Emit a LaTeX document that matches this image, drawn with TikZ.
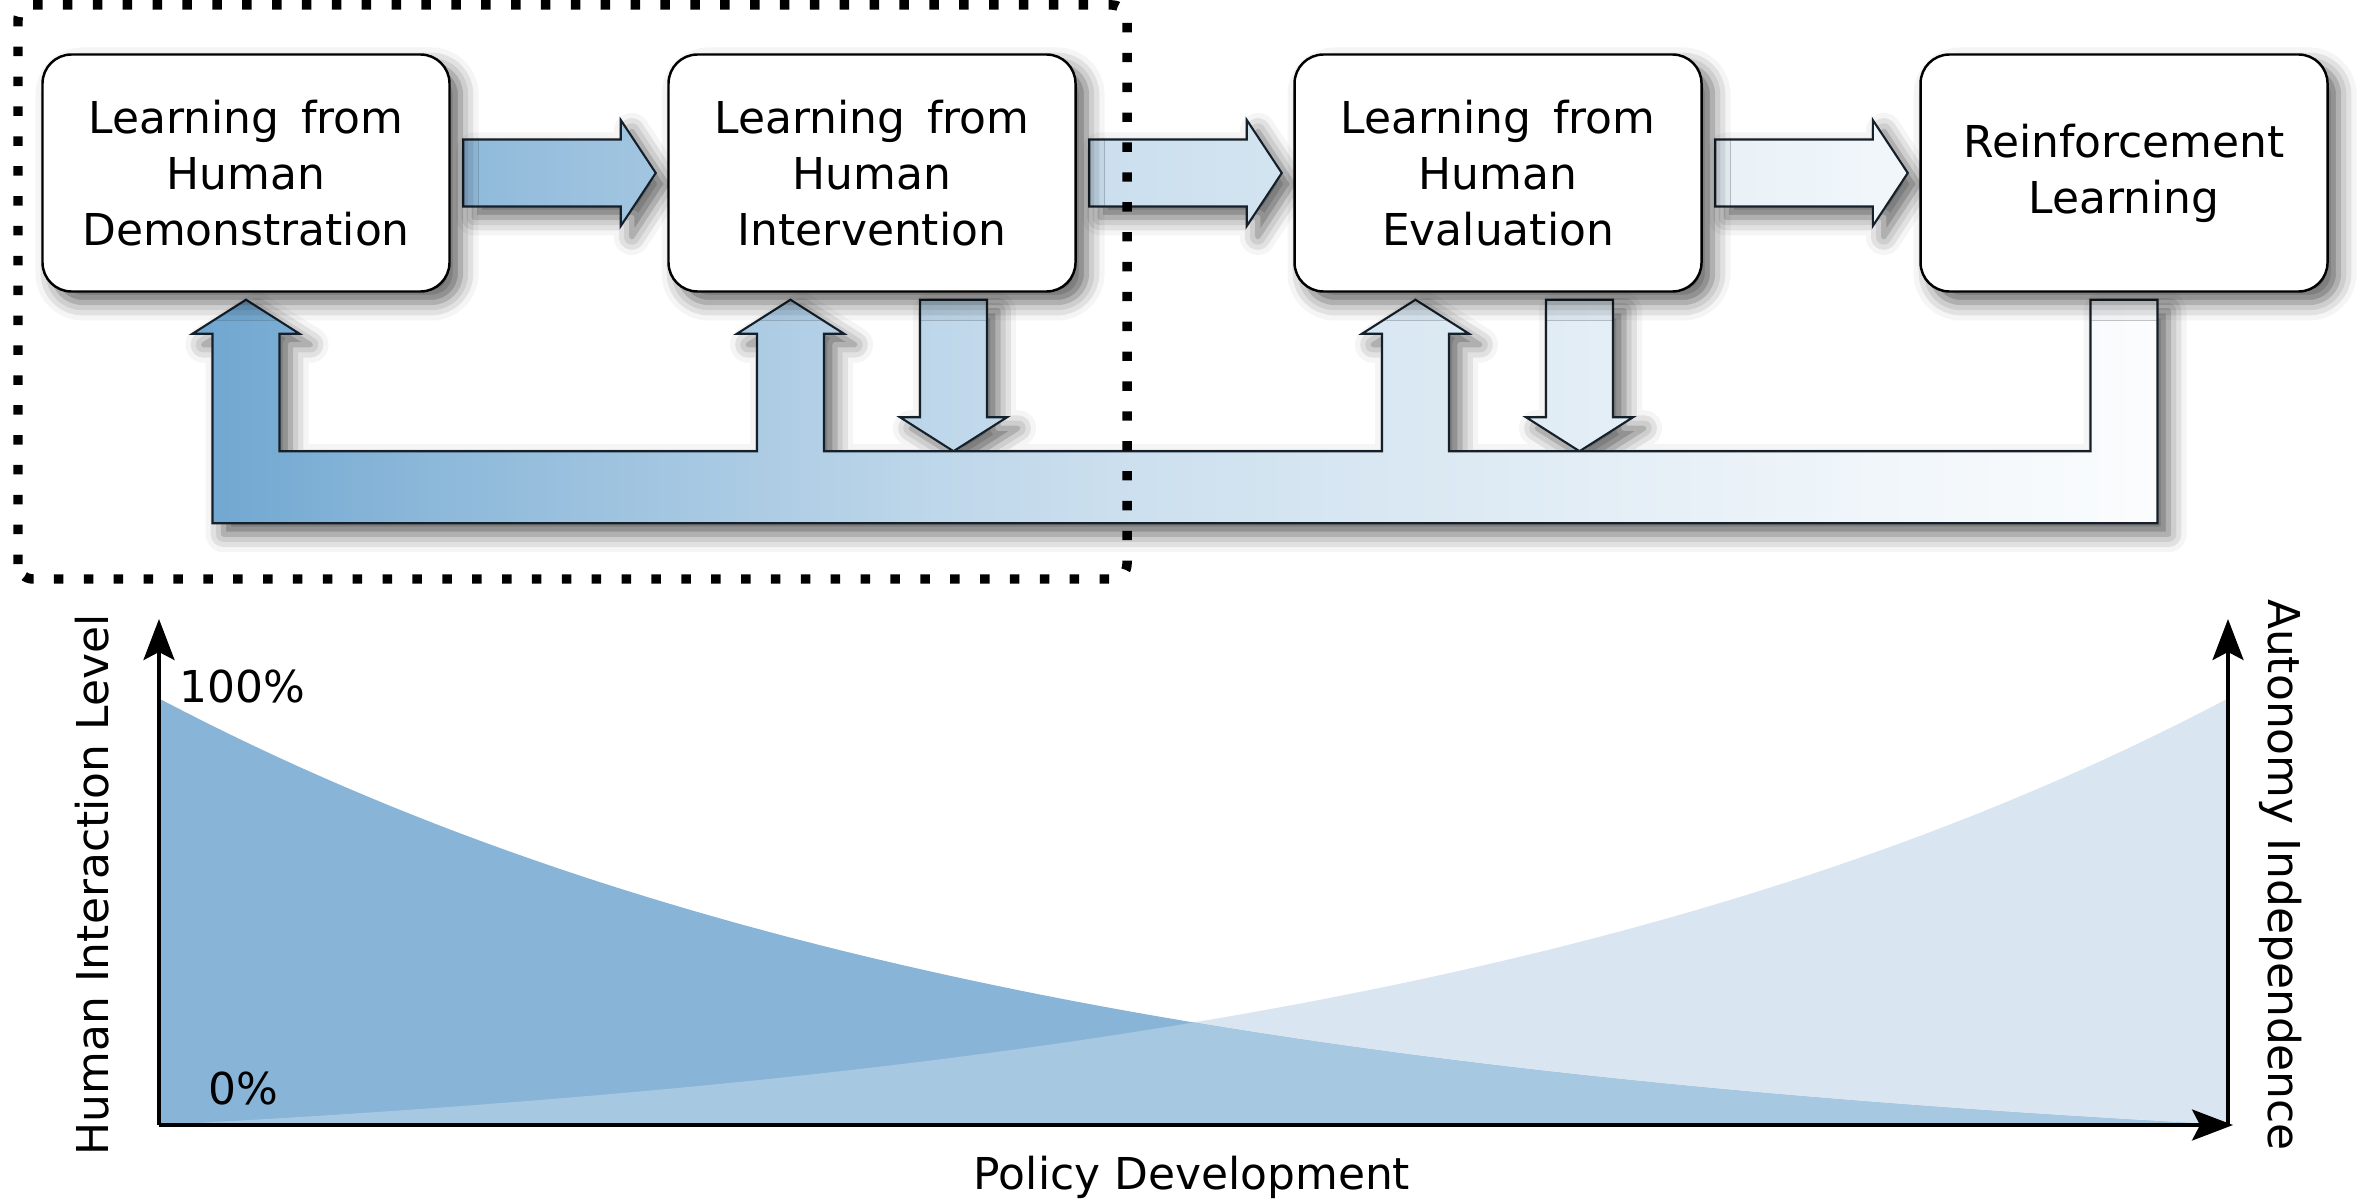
\documentclass[tikz,border=0pt]{standalone}
\usepackage{fontspec}
\setmainfont{DejaVu Sans}
\usetikzlibrary{calc,arrows.meta,shadows.blur}

\definecolor{loopblue}{RGB}{111,166,208}
\definecolor{arrowline}{RGB}{22,32,42}
\definecolor{humanfill}{RGB}{136,180,215}
\definecolor{autofill}{RGB}{217,230,241}
\definecolor{bothfill}{RGB}{167,200,225}
\colorlet{fb80}{loopblue!80!white}
\colorlet{fb45}{loopblue!45!white}
\colorlet{fb35}{loopblue!35!white}
\colorlet{fb19}{loopblue!19!white}
\colorlet{fb10}{loopblue!10!white}
\colorlet{fb03}{loopblue!3!white}

\pgfdeclarehorizontalshading{busfade}{100bp}{color(0bp)=(loopblue); color(25bp)=(loopblue);
  color(31bp)=(fb80); color(44bp)=(fb45); color(49bp)=(fb35); color(61bp)=(fb19);
  color(68bp)=(fb10); color(75bp)=(fb03); color(100bp)=(fb03)}

\pgfdeclarelayer{background}
\pgfsetlayers{background,main}

\tikzset{
  softshadow/.style={blur shadow={shadow xshift=1.1mm, shadow yshift=-1.1mm,
    shadow blur radius=1.8mm, shadow opacity=62}},
  stage/.style={draw, line width=0.7pt, rounded corners=0.29cm, fill=white,
    minimum width=4.07cm, minimum height=2.37cm, inner sep=0pt, align=center, softshadow},
  flow/.style={draw=arrowline, line width=0.6pt, shading=busfade, softshadow},
  axis/.style={line width=1pt, opacity=1, fill=black,
    -{Stealth[length=4.1mm, width=3.1mm, inset=0.8mm, fill=black]}},
  humanloop/.style={line width=2.7pt, dash pattern=on 2.7pt off 5.8pt, rounded corners=0.15cm},
}

\begin{document}
\begin{tikzpicture}[font=\fontsize{12.5}{15.9}\selectfont]
  \useasboundingbox (0,0) rectangle (23.68,12);
  % learning stages
  \node[stage] (demo) at (2.46,10.27) {Learning\hspace{.5em}from\\Human\\Demonstration};
  \node[stage] (inter) at (8.72,10.27) {Learning\hspace{.5em}from\\Human\\Intervention};
  \node[stage] (eval) at (14.98,10.27) {Learning\hspace{.5em}from\\Human\\Evaluation};
  \node[stage] (rl) at (21.24,10.27) {Reinforcement\\Learning};
  % feet of the feedback arrows
  \coordinate (up1) at ($(demo.south)+(0,-0.07)$);
  \coordinate (up2) at ($(inter.south)+(-0.815,-0.07)$);
  \coordinate (up3) at ($(eval.south)+(-0.825,-0.07)$);
  \coordinate (dn2) at ($(inter.south)+(0.815,-0.07)$);
  \coordinate (dn3) at ($(eval.south)+(0.815,-0.07)$);
  \coordinate (rlfoot) at ($(rl.south)+(0,-0.07)$);
  % block arrows, one shading for all of them
  \begin{pgfonlayer}{background}
    \shadedraw[flow]
      (up1) -- ++(0.535,-0.34) -- ++(-0.2,0) -- ++(0,-1.175)
      -- ($(up2)+(-0.335,-1.515)$) -- ++(0,1.175) -- ++(-0.2,0) -- (up2)
      -- ++(0.535,-0.34) -- ++(-0.2,0) -- ++(0,-1.175)
      -- ($(up3)+(-0.335,-1.515)$) -- ++(0,1.175) -- ++(-0.2,0) -- (up3)
      -- ++(0.535,-0.34) -- ++(-0.2,0) -- ++(0,-1.175)
      -- ($(rlfoot)+(-0.335,-1.515)$) -- ++(0,1.515) -- ++(0.67,0) -- ++(0,-2.235)
      -- ($(up1)+(-0.335,-2.235)$) -- ++(0,1.895) -- ++(-0.2,0) -- cycle
      ($(dn2)+(-0.335,0)$) -- ++(0.67,0) -- ++(0,-1.175) -- ++(0.2,0)
      -- ++(-0.535,-0.34) -- ++(-0.535,0.34) -- ++(0.2,0) -- cycle
      ($(dn3)+(-0.335,0)$) -- ++(0.67,0) -- ++(0,-1.175) -- ++(0.2,0)
      -- ++(-0.535,-0.34) -- ++(-0.535,0.34) -- ++(0.2,0) -- cycle
      ($(demo.east)+(0.125,0.335)$) -- ($(inter.west)+(-0.465,0.335)$) -- ++(0,0.195)
      -- ($(inter.west)+(-0.115,0)$) -- ($(inter.west)+(-0.465,-0.53)$) -- ++(0,0.195)
      -- ($(demo.east)+(0.125,-0.335)$) -- cycle
      ($(inter.east)+(0.125,0.335)$) -- ($(eval.west)+(-0.465,0.335)$) -- ++(0,0.195)
      -- ($(eval.west)+(-0.115,0)$) -- ($(eval.west)+(-0.465,-0.53)$) -- ++(0,0.195)
      -- ($(inter.east)+(0.125,-0.335)$) -- cycle
      ($(eval.east)+(0.125,0.335)$) -- ($(rl.west)+(-0.465,0.335)$) -- ++(0,0.195)
      -- ($(rl.west)+(-0.115,0)$) -- ($(rl.west)+(-0.465,-0.53)$) -- ++(0,0.195)
      -- ($(eval.east)+(0.125,-0.335)$) -- cycle;
  \end{pgfonlayer}
  % interaction vs autonomy
  \coordinate (origin) at (1.59,0.75);
  \coordinate (ytop) at (1.59,5.81);
  \coordinate (xend) at (22.33,0.75);
  \coordinate (rfoot) at (22.28,0.75);
  \coordinate (rtop) at (22.28,5.81);
  \fill[autofill] (origin) -- plot[variable=\t, domain=0:1, samples=90]
    ({1.59+20.69*\t}, {0.75+4.265*(exp(-2.3*(1-\t))-0.1003)/0.8997}) -- (rfoot) -- cycle;
  \fill[humanfill] (origin) -- plot[variable=\t, domain=0:1, samples=90]
    ({1.59+20.69*\t}, {0.75+4.265*(exp(-2.3*\t)-0.1003)/0.8997}) -- cycle;
  \fill[bothfill] (origin) -- plot[variable=\t, domain=0:0.5, samples=45]
    ({1.59+20.69*\t}, {0.75+4.265*(exp(-2.3*(1-\t))-0.1003)/0.8997})
    -- plot[variable=\t, domain=0.5:1, samples=45]
    ({1.59+20.69*\t}, {0.75+4.265*(exp(-2.3*\t)-0.1003)/0.8997}) -- cycle;
  \draw[axis] (origin) -- (ytop);
  \draw[axis] (origin) -- (xend);
  \draw[axis] (rfoot) -- (rtop);
  \node[anchor=base west, inner sep=0pt] (full) at (1.79,4.98) {100\%};
  \node[anchor=base west, inner sep=0pt] (none) at (2.08,0.96) {0\%};
  \node[rotate=90, anchor=base, inner sep=0pt] (hlevel) at (1.08,3.15) {Human Interaction Level};
  \node[rotate=-90, anchor=base, inner sep=0pt] (autind) at (22.68,3.25) {Autonomy Independence};
  \node[anchor=base, inner sep=0pt] (policy) at (11.92,0.11) {Policy Development};
  % human in the loop
  \draw[humanloop] (0.18,6.21) rectangle (11.27,11.95);
\end{tikzpicture}
\end{document}
